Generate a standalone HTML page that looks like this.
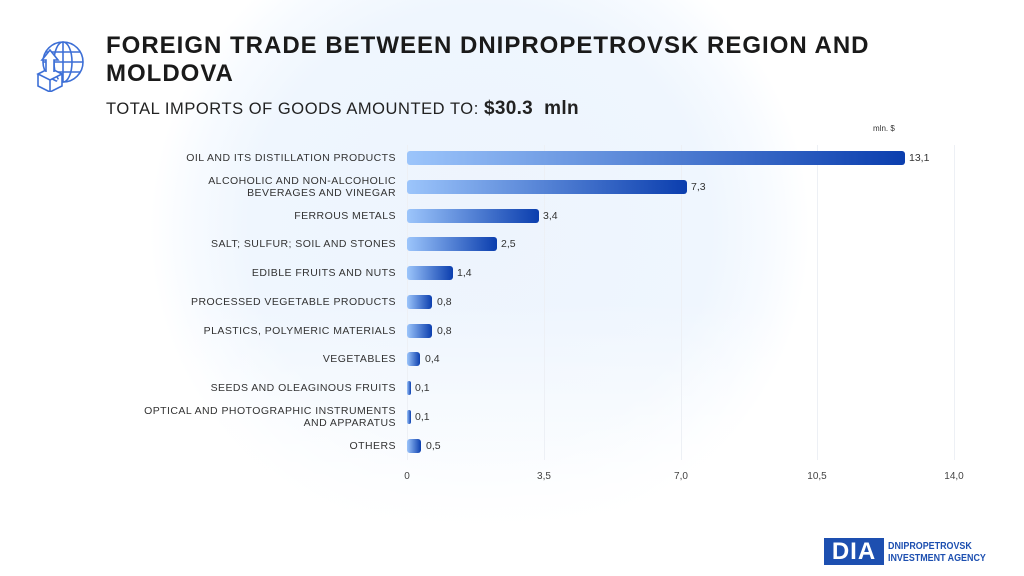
<!DOCTYPE html>
<html><head><style>
body{margin:0;width:1024px;height:576px;overflow:hidden;background:#fff;font-family:"Liberation Sans",sans-serif;position:relative}
.bg{position:absolute;left:150px;top:-90px;width:660px;height:640px;border-radius:50%;background:radial-gradient(closest-side,#edf4fd 0%,#eff6fe 70%,rgba(244,249,255,0.7) 88%,rgba(255,255,255,0) 100%)}
.fade{position:absolute;left:0;top:300px;width:1024px;height:276px;background:linear-gradient(rgba(255,255,255,0),rgba(255,255,255,0.6) 50%,#fff 85%)}
.t{position:absolute;left:106px;top:32px;font-size:24px;font-weight:bold;color:#1a1a1a;line-height:28px;letter-spacing:1px}
.s{position:absolute;left:106px;top:98px;font-size:16.5px;color:#222;letter-spacing:0.55px}
.s b{font-size:19px;letter-spacing:0.3px}
.lab{position:absolute;right:628px;font-size:10.5px;color:#333;text-align:right;line-height:12px;letter-spacing:0.45px}
.bar{position:absolute;left:407px;height:14px;border-radius:3px;background:linear-gradient(90deg,#9cc5fb,#0b3eae)}
.v{position:absolute;font-size:10.5px;color:#333}
.g{position:absolute;top:145px;height:315px;width:1px;background:#edf0f5}
.tk{position:absolute;top:471px;font-size:10px;color:#444;transform:translateX(-50%)}
</style></head><body>
<div class="bg"></div><div class="fade"></div>
<svg style="position:absolute;left:34px;top:38px" width="54" height="54" viewBox="0 0 54 54" fill="none" stroke="#3d6fd6" stroke-width="1.6">
<circle cx="29" cy="24" r="20"/><ellipse cx="29" cy="24" rx="9" ry="20"/><line x1="9" y1="24" x2="49" y2="24"/><line x1="12" y1="14" x2="46" y2="14"/><line x1="12" y1="34" x2="46" y2="34"/><line x1="29" y1="4" x2="29" y2="44"/>
<path d="M4 36 L16 30 L28 36 L16 42 Z M4 36 V48 L16 54 V42 M28 36 V48 L16 54" fill="#fff"/>
<path d="M12 34 V22 H8 L16 12 L24 22 H20 V34" fill="#fff"/>
</svg>
<div class="t">FOREIGN TRADE BETWEEN DNIPROPETROVSK REGION AND<br>MOLDOVA</div>
<div class="s">TOTAL IMPORTS OF GOODS AMOUNTED TO: <b>$30.3&nbsp; mln</b></div>
<div style="position:absolute;left:873px;top:124px;font-size:8px;color:#333">mln. $</div>
<div class="g" style="left:407px"></div><div class="g" style="left:544px"></div><div class="g" style="left:681px"></div><div class="g" style="left:817px"></div><div class="g" style="left:954px"></div>
<div class="tk" style="left:407px">0</div><div class="tk" style="left:544px">3,5</div><div class="tk" style="left:681px">7,0</div><div class="tk" style="left:817px">10,5</div><div class="tk" style="left:954px">14,0</div>

<div class="lab" style="top:152px">OIL AND ITS DISTILLATION PRODUCTS</div>
<div class="bar" style="top:151px;width:498px"></div><div class="v" style="left:909px;top:152px">13,1</div>
<div class="lab" style="top:175px">ALCOHOLIC AND NON-ALCOHOLIC<br>BEVERAGES AND VINEGAR</div>
<div class="bar" style="top:180px;width:280px"></div><div class="v" style="left:691px;top:181px">7,3</div>
<div class="lab" style="top:210px">FERROUS METALS</div>
<div class="bar" style="top:209px;width:132px"></div><div class="v" style="left:543px;top:210px">3,4</div>
<div class="lab" style="top:238px">SALT; SULFUR; SOIL AND STONES</div>
<div class="bar" style="top:237px;width:90px"></div><div class="v" style="left:501px;top:238px">2,5</div>
<div class="lab" style="top:267px">EDIBLE FRUITS AND NUTS</div>
<div class="bar" style="top:266px;width:46px"></div><div class="v" style="left:457px;top:267px">1,4</div>
<div class="lab" style="top:296px">PROCESSED VEGETABLE PRODUCTS</div>
<div class="bar" style="top:295px;width:25px"></div><div class="v" style="left:437px;top:296px">0,8</div>
<div class="lab" style="top:325px">PLASTICS, POLYMERIC MATERIALS</div>
<div class="bar" style="top:324px;width:25px"></div><div class="v" style="left:437px;top:325px">0,8</div>
<div class="lab" style="top:353px">VEGETABLES</div>
<div class="bar" style="top:352px;width:13px"></div><div class="v" style="left:425px;top:353px">0,4</div>
<div class="lab" style="top:382px">SEEDS AND OLEAGINOUS FRUITS</div>
<div class="bar" style="top:381px;width:4px;border-radius:2px"></div><div class="v" style="left:415px;top:382px">0,1</div>
<div class="lab" style="top:405px">OPTICAL AND PHOTOGRAPHIC INSTRUMENTS<br>AND APPARATUS</div>
<div class="bar" style="top:410px;width:4px;border-radius:2px"></div><div class="v" style="left:415px;top:411px">0,1</div>
<div class="lab" style="top:440px">OTHERS</div>
<div class="bar" style="top:439px;width:14px"></div><div class="v" style="left:426px;top:440px">0,5</div>

<div style="position:absolute;left:824px;top:538px;font-size:24px;font-weight:bold;color:#fff;background:#1d4fb0;height:27px;line-height:27px;width:60px;text-align:center;letter-spacing:1px">DIA</div>
<div style="position:absolute;left:888px;top:540px;font-size:10.5px;font-weight:bold;color:#1d4fb0;line-height:12px;transform:scaleX(0.85);transform-origin:left">DNIPROPETROVSK<br>INVESTMENT AGENCY</div>
</body></html>
